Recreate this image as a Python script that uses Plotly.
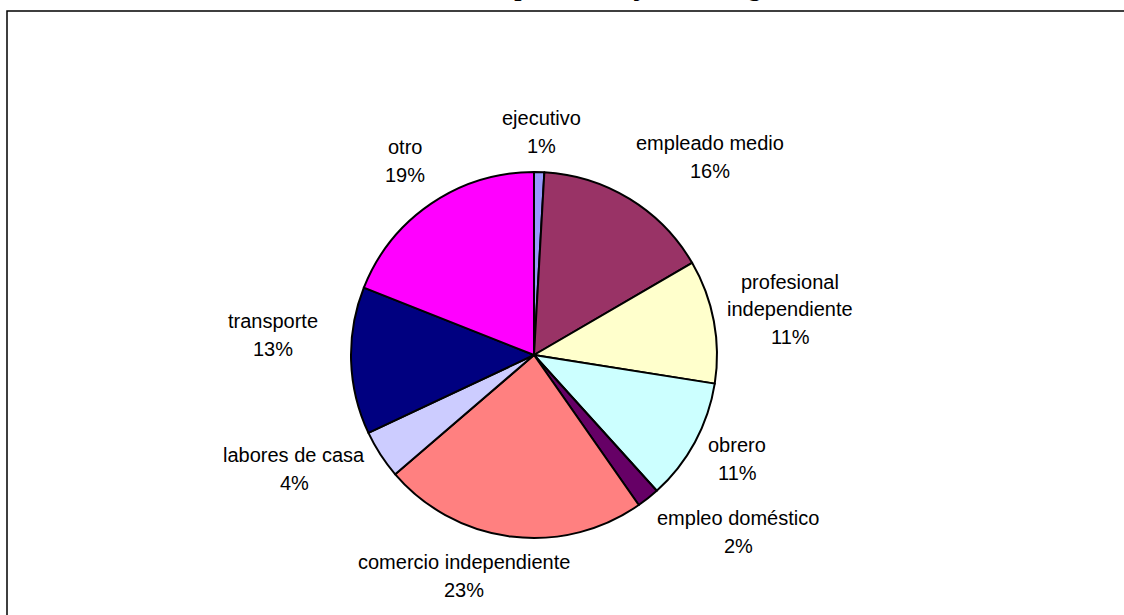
import plotly.graph_objects as go

W, H = 1124, 615

# data, clockwise from 12 o'clock
categories = ['ejecutivo', 'empleado medio', 'profesional\nindependiente', 'obrero',
              'empleo doméstico', 'comercio independiente', 'labores de casa',
              'transporte', 'otro']
values = [0.9, 15.7, 10.9, 10.8, 2.0, 23.4, 4.3, 13.0, 19.0]
colors = ['#9999FF', '#993366', '#FFFFCC', '#CCFFFF', '#660066',
          '#FF8080', '#CCCCFF', '#000080', '#FF00FF']

# label block centres in pixels (Excel-style placement)
label_pos = [(541, 132), (710, 157), (790, 309), (737, 459), (738, 532),
             (464, 576), (294, 469), (273, 335), (405, 161)]

title = 'Ocupación del jefe del hogar'

# pie centre / radius in pixels
cx, cy, r = 534, 355, 183

fig = go.Figure(go.Pie(
    labels=[c.replace('\n', ' ') for c in categories], values=values,
    sort=False, direction='clockwise', rotation=0,
    marker=dict(colors=colors, line=dict(color='black', width=2)),
    textinfo='none', hoverinfo='label+percent', showlegend=False,
    domain=dict(x=[(cx - r) / W, (cx + r) / W], y=[1 - (cy + r) / H, 1 - (cy - r) / H]),
))

total = sum(values)
line_h = 27.5
annotations = []
for cat, v, (px, py) in zip(categories, values, label_pos):
    lines = cat.split('\n') + [f'{round(v / total * 100)}%']
    n = len(lines)
    for i, txt in enumerate(lines):
        annotations.append(dict(
            x=px / W, y=1 - py / H, xref='paper', yref='paper',
            text=txt, showarrow=False, xanchor='center', yanchor='middle',
            yshift=-(i - (n - 1) / 2) * line_h,
            font=dict(family='Liberation Sans, Arial', size=20, color='black'),
        ))

# title, mostly cut off at the top edge as in the source image
annotations.append(dict(
    x=627 / W, y=1 - 4.5 / H, xref='paper', yref='paper', text=f'<b>{title}</b>',
    showarrow=False, xanchor='center', yanchor='bottom',
    font=dict(family='Liberation Serif, Times New Roman', size=26, color='black'),
))

fig.update_layout(
    width=W, height=H, margin=dict(l=0, r=0, t=0, b=0),
    paper_bgcolor='white', plot_bgcolor='white',
    annotations=annotations,
    shapes=[dict(type='rect', xref='paper', yref='paper',
                 x0=7 / W, x1=1.02, y0=-0.02, y1=1 - 11 / H,
                 line=dict(color='black', width=1.5))],
)

fig.write_html("out.html", config={'displayModeBar': False},
               post_script="document.body.style.margin='0';")
